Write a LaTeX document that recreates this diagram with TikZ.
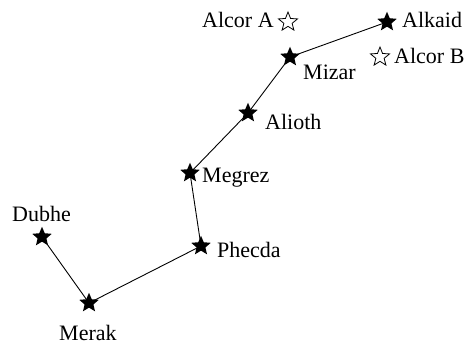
\documentclass[tikz,border=0pt]{standalone}
\usepackage{fontspec}
\setmainfont{Liberation Serif}
\usetikzlibrary{shapes.geometric,backgrounds}
\tikzset{
  fullstar/.style={star, star points=5, star point ratio=2.2, minimum size=20.5pt, inner sep=0pt, fill=black, draw=none},
  openstar/.style={star, star points=5, star point ratio=2.3, minimum size=20pt, inner sep=0pt, fill=white, draw=black, line width=0.8pt},
  lbl/.style={inner sep=0pt, anchor=base west, font=\fontsize{22}{26}\selectfont},
  link/.style={draw=black, line width=0.9pt}
}
\begin{document}
\begin{tikzpicture}[x=1pt,y=-1pt]
\useasboundingbox (0,0) rectangle (465,347);
% stars
\node[fullstar] (alkaid) at (387,22) {};
\node[fullstar] (mizar) at (290,57) {};
\node[fullstar] (alioth) at (248,113) {};
\node[fullstar] (megrez) at (190,173) {};
\node[fullstar] (phecda) at (201,246) {};
\node[fullstar] (merak) at (89,303) {};
\node[fullstar] (dubhe) at (42,237) {};
\node[openstar] (alcorA) at (288,22) {};
\node[openstar] (alcorB) at (380,57) {};
% labels
\node[lbl] (tAlkaid) at (402,28) {Alkaid};
\node[lbl] (tAlcorA) at (202,28) {Alcor A};
\node[lbl] (tAlcorB) at (394,64) {Alcor B};
\node[lbl] (tMizar) at (303,80) {Mizar};
\node[lbl] (tAlioth) at (265,130) {Alioth};
\node[lbl] (tMegrez) at (202,183) {Megrez};
\node[lbl] (tPhecda) at (217,257) {Phecda};
\node[lbl] (tMerak) at (59,340) {Merak};
\node[lbl] (tDubhe) at (12,222) {Dubhe};
% connectors
\begin{scope}[on background layer]
\draw[link] (alkaid.center) -- (mizar.center) -- (alioth.center) -- (megrez.center)
  -- (phecda.center) -- (merak.center) -- (dubhe.center);
\end{scope}
\end{tikzpicture}
\end{document}
